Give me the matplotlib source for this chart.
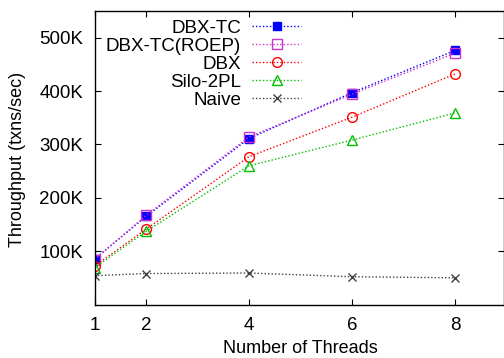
import matplotlib
matplotlib.use("Agg")
import matplotlib.pyplot as plt
from matplotlib.ticker import FuncFormatter

plt.rcParams['font.family'] = ['Liberation Sans', 'DejaVu Sans']

threads = [1, 2, 4, 6, 8]
dbx_tc = [85, 165, 311, 397, 476]
dbx_tc_roep = [84, 167, 314, 394, 471]
dbx = [72, 141, 277, 351, 432]
silo_2pl = [69, 137, 260, 308, 359]
naive = [54, 58, 59, 52, 50]

series = [
    ("DBX-TC", dbx_tc, dict(color="#0000ff", marker="s", mfc="#0000ff", mec="#0000ff", ms=6)),
    ("DBX-TC(ROEP)", dbx_tc_roep, dict(color="#cc33cc", marker="s", mfc="none", mec="#cc33cc", ms=6.5)),
    ("DBX", dbx, dict(color="#ff0000", marker="o", mfc="none", mec="#ff0000", ms=7)),
    ("Silo-2PL", silo_2pl, dict(color="#00c000", marker="^", mfc="none", mec="#00c000", ms=7)),
    ("Naive", naive, dict(color="#404040", marker="x", mfc="none", mec="#404040", ms=6)),
]

fig = plt.figure(figsize=(5.04, 3.58), dpi=100)
W, H = 504, 358
left, right, bottom, top = 94.5, 503.5, 304.5, 11
ax = fig.add_axes([left / W, 1 - bottom / H, (right - left) / W, (bottom - top) / H])

for name, vals, st in series:
    ax.plot(threads, [v * 1000 for v in vals], linestyle=(0, (1, 1.5)), linewidth=1.0,
            label=name, mew=1.0, **st)

ax.set_xlim(1, 1 + (right - left) / 51.5)
ax.set_ylim(0, 550000)
ax.set_xticks(threads)
ax.set_yticks([100000, 200000, 300000, 400000, 500000])
ax.yaxis.set_major_formatter(FuncFormatter(lambda v, p: f"{int(v/1000)}K"))
ax.tick_params(direction="in", length=4, width=0.8, top=True, right=True,
               labelsize=13.5)
ax.tick_params(axis="x", pad=9)
ax.tick_params(axis="y", pad=8)
for s in ax.spines.values():
    s.set_linewidth(1.0)

fig.text(18 / W, 1 - 159 / H, "Throughput (txns/sec)", rotation=90, ha="center", va="center", fontsize=13)
fig.text(300 / W, 1 - 348.5 / H, "Number of Threads", ha="center", va="center", fontsize=13)

leg = fig.legend(loc="upper right", bbox_to_anchor=(301 / W, 1 - 19.5 / H), markerfirst=False,
                 frameon=False, fontsize=13.5, handlelength=2.6, labelspacing=0.05,
                 handletextpad=0.6, borderaxespad=0.0, borderpad=0.0)
for t in leg.get_texts():
    t.set_ha("right")
leg._legend_box.align = "right"

fig.savefig("out.png", dpi=100)
